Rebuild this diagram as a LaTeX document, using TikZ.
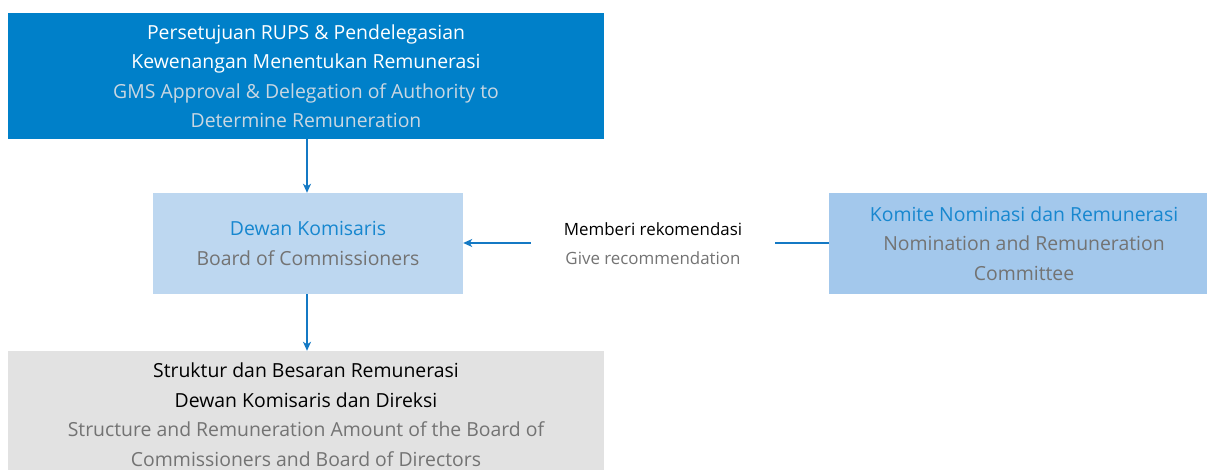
\documentclass[tikz,border=0pt]{standalone}
\usepackage{fontspec}
\setmainfont{Open Sans}
\usetikzlibrary{arrows.meta}
\definecolor{topblue}{HTML}{0080C9}
\definecolor{bocblue}{HTML}{BDD7F0}
\definecolor{nrcblue}{HTML}{A3C8EC}
\definecolor{botgray}{HTML}{E2E2E2}
\definecolor{txtblue}{HTML}{1787CF}
\definecolor{txtgray}{HTML}{737373}
\definecolor{txtlight}{HTML}{C9D7E2}
\definecolor{linkblue}{HTML}{1479C4}
\tikzset{
  box/.style={rectangle, inner sep=0pt, align=center, font=\fontsize{19.4}{29.5}\selectfont},
  link/.style={draw=linkblue, line width=1.3pt},
  arrowlink/.style={link, -{Stealth[length=9pt,width=8pt,inset=2.5pt]}},
}
\begin{document}
\begin{tikzpicture}[x=1pt,y=-1pt]
\useasboundingbox (0,0) rectangle (1207,470);
\node[box, fill=topblue, minimum width=596pt, minimum height=126pt] (top) at (306,76)
  {\color{white}Persetujuan RUPS \& Pendelegasian\\
   \color{white}Kewenangan Menentukan Remunerasi\\
   \color{txtlight}GMS Approval \& Delegation of Authority to\\
   \color{txtlight}Determine Remuneration};
\node[box, fill=bocblue, minimum width=310pt, minimum height=101pt] (boc) at (308,243.5)
  {\color{txtblue}Dewan Komisaris\\
   \color{txtgray}Board of Commissioners};
\node[box, fill=nrcblue, minimum width=390pt, minimum height=101pt] (nrc) at (1024,243.5)
  {\color{txtblue}Komite Nominasi dan Remunerasi\\
   \color{txtgray}Nomination and Remuneration\\
   \color{txtgray}Committee};
\node[box, fill=botgray, minimum width=596pt, minimum height=127pt] (bot) at (306,414.5)
  {\color{black}Struktur dan Besaran Remunerasi\\
   \color{black}Dewan Komisaris dan Direksi\\
   \color{txtgray}Structure and Remuneration Amount of the Board of\\
   \color{txtgray}Commissioners and Board of Directors};
\node[box, minimum width=244pt, font=\fontsize{16.9}{29}\selectfont] (lbl) at (653,244)
  {\color{black}Memberi rekomendasi\\
   \color{txtgray}Give recommendation};
\coordinate (nrcw) at (829,243);
\draw[arrowlink] (top.south -| 307,0) -- (boc.north -| 307,0);
\draw[arrowlink] (boc.south -| 307,0) -- (bot.north -| 307,0);
\draw[link] (nrcw) -- (lbl.east |- nrcw);
\draw[arrowlink] (lbl.west |- nrcw) -- (boc.east |- nrcw);
\end{tikzpicture}
\end{document}
